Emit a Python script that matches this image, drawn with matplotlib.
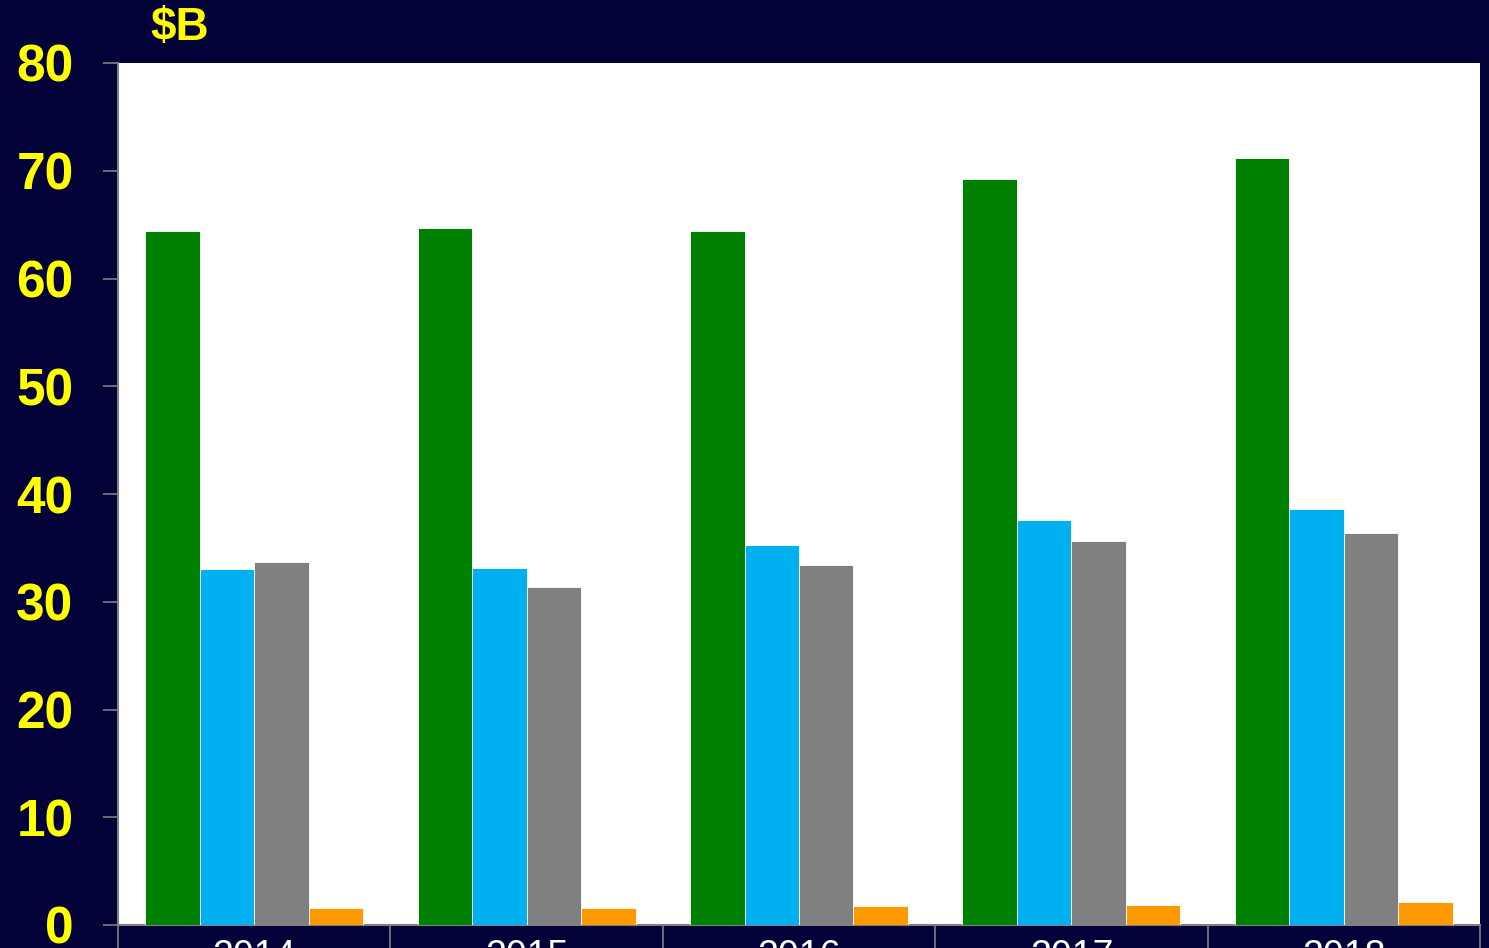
import matplotlib
matplotlib.use("Agg")
import matplotlib.pyplot as plt
import numpy as np
from matplotlib.ticker import FixedLocator, NullFormatter

plt.rcParams["font.family"] = ["Liberation Sans", "DejaVu Sans"]

BG = "#020238"

years = ["2014", "2015", "2016", "2017", "2018"]
green_vals = [64.4, 64.7, 64.4, 69.2, 71.2]
blue_vals = [33.0, 33.1, 35.3, 37.6, 38.6]
gray_vals = [33.7, 31.4, 33.4, 35.6, 36.4]
orange_vals = [1.6, 1.6, 1.8, 1.9, 2.1]

series = [green_vals, blue_vals, gray_vals, orange_vals]
colors = ["#008000", "#00B0F0", "#808080", "#FF9900"]

fig = plt.figure(figsize=(14.89, 9.48), dpi=100, facecolor=BG)
ax = fig.add_axes([118 / 1489, 23 / 948, (1480 - 118) / 1489, (925 - 63) / 948])
ax.set_facecolor("white")

x = np.arange(len(years))
w = 0.2
for i, (vals, c) in enumerate(zip(series, colors)):
    ax.bar(x - 0.3 + i * w, vals, width=w, color=c,
           edgecolor="white", linewidth=0.6, zorder=3)

ax.set_xlim(-0.5, len(years) - 0.5)
ax.set_ylim(0, 80)
ax.set_yticks(range(0, 81, 10))
ax.tick_params(axis="y", colors="#808080", length=11, width=1.2,
               pad=21, labelsize=37, labelcolor="#FFFF00")
for lab in ax.get_yticklabels():
    lab.set_fontweight("bold")

ax.set_xticks(x)
ax.set_xticklabels(years)
ax.tick_params(axis="x", which="major", length=0, pad=10,
               labelsize=27, labelcolor="white")
ax.xaxis.set_minor_locator(FixedLocator(np.arange(-0.5, len(years), 1.0)))
ax.xaxis.set_minor_formatter(NullFormatter())
ax.tick_params(axis="x", which="minor", length=30, width=1.2,
               colors="#808080", direction="out")

for side in ["top", "right"]:
    ax.spines[side].set_visible(False)
for side in ["left", "bottom"]:
    ax.spines[side].set_color("#808080")
    ax.spines[side].set_linewidth(1.5)

fig.text(150 / 1489, 1 - 28 / 948, "$B", color="#FFFF00", fontsize=33,
         fontweight="bold", ha="left", va="center")

fig.savefig("out.png", dpi=100, facecolor=BG)
